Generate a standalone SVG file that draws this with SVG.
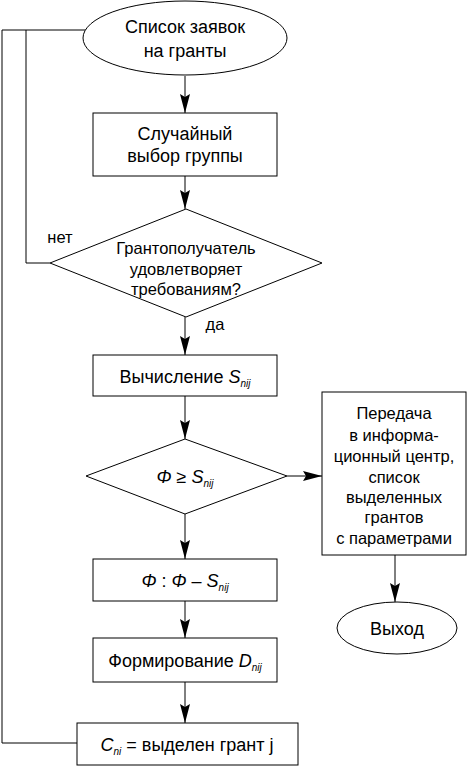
<svg xmlns="http://www.w3.org/2000/svg" width="467" height="766" viewBox="0 0 467 766">
<style>
.s{fill:#fff;stroke:#000;stroke-width:1}
.t{font-family:"Liberation Sans",Arial,sans-serif;font-size:18px;fill:#000;text-anchor:middle}
.m{font-size:16.5px}
.i{font-style:italic}
.sub{font-size:10px;font-style:italic}
.c{fill:none;stroke:#000;stroke-width:1}
</style>
<defs>
<marker id="a" markerUnits="userSpaceOnUse" markerWidth="20" markerHeight="12" refX="19" refY="5" orient="auto">
<path d="M0,0 L19,5 L0,10 L3,5 z" fill="#000"/>
</marker>
</defs>
<rect width="467" height="766" fill="#fff"/>
<g id="connectors">
<line class="c" x1="185" y1="76" x2="185" y2="113" marker-end="url(#a)"/>
<line class="c" x1="185" y1="176" x2="185" y2="209" marker-end="url(#a)"/>
<line class="c" x1="185" y1="317" x2="185" y2="355" marker-end="url(#a)"/>
<line class="c" x1="185" y1="396" x2="185" y2="439" marker-end="url(#a)"/>
<line class="c" x1="185" y1="514" x2="185" y2="559" marker-end="url(#a)"/>
<line class="c" x1="185" y1="601" x2="185" y2="638" marker-end="url(#a)"/>
<line class="c" x1="185" y1="682" x2="185" y2="723" marker-end="url(#a)"/>
<line class="c" x1="287" y1="476" x2="322" y2="476" marker-end="url(#a)"/>
<line class="c" x1="395" y1="555" x2="395" y2="602" marker-end="url(#a)"/>
<polyline class="c" points="50,263 26,263 26,30"/>
<polyline class="c" points="77,743 2,743 2,30 86,30"/>
<text class="t m" x="60" y="243">нет</text>
<text class="t m" x="215" y="330">да</text>
</g>
<g id="start">
<ellipse class="s" cx="185" cy="38" rx="102" ry="37"/>
<text class="t" x="185" y="33">Список заявок</text>
<text class="t" x="185" y="57">на гранты</text>
</g>
<g id="random">
<rect class="s" x="93" y="113" width="184" height="63"/>
<text class="t" x="185" y="140">Случайный</text>
<text class="t" x="185" y="162">выбор группы</text>
</g>
<g id="check">
<polygon class="s" points="186,209 322,263 186,317 50,263"/>
<text class="t m" x="186" y="254">Грантополучатель</text>
<text class="t m" x="186" y="275">удовлетворяет</text>
<text class="t m" x="186" y="295">требованиям?</text>
</g>
<g id="calc">
<rect class="s" x="93" y="355" width="184" height="41"/>
<text class="t" x="185" y="383">Вычисление <tspan class="i">S</tspan><tspan class="sub" dy="4">nij</tspan></text>
</g>
<g id="cond">
<polygon class="s" points="185,439 287,476 185,514 86,476"/>
<text class="t" x="185" y="483"><tspan class="i">Φ</tspan> ≥ <tspan class="i">S</tspan><tspan class="sub" dy="4">nij</tspan></text>
</g>
<g id="transfer">
<rect class="s" x="322" y="392" width="144" height="163"/>
<text class="t m" x="394" y="419">Передача</text>
<text class="t m" x="394" y="441">в информа-</text>
<text class="t m" x="394" y="462">ционный центр,</text>
<text class="t m" x="394" y="483">список</text>
<text class="t m" x="394" y="503">выделенных</text>
<text class="t m" x="394" y="523">грантов</text>
<text class="t m" x="394" y="544">с параметрами</text>
</g>
<g id="exit">
<ellipse class="s" cx="397" cy="628" rx="60" ry="26"/>
<text class="t" x="397" y="635">Выход</text>
</g>
<g id="update">
<rect class="s" x="93" y="559" width="184" height="42"/>
<text class="t" x="185" y="587"><tspan class="i">Φ</tspan> : <tspan class="i">Φ</tspan> – <tspan class="i">S</tspan><tspan class="sub" dy="4">nij</tspan></text>
</g>
<g id="form">
<rect class="s" x="93" y="638" width="184" height="44"/>
<text class="t" x="185" y="667">Формирование <tspan class="i">D</tspan><tspan class="sub" dy="4">nij</tspan></text>
</g>
<g id="grant">
<rect class="s" x="77" y="723" width="221" height="42"/>
<text class="t" x="187" y="751"><tspan class="i">C</tspan><tspan class="sub" dy="4">ni</tspan><tspan dy="-4"> = выделен грант j</tspan></text>
</g>
</svg>
